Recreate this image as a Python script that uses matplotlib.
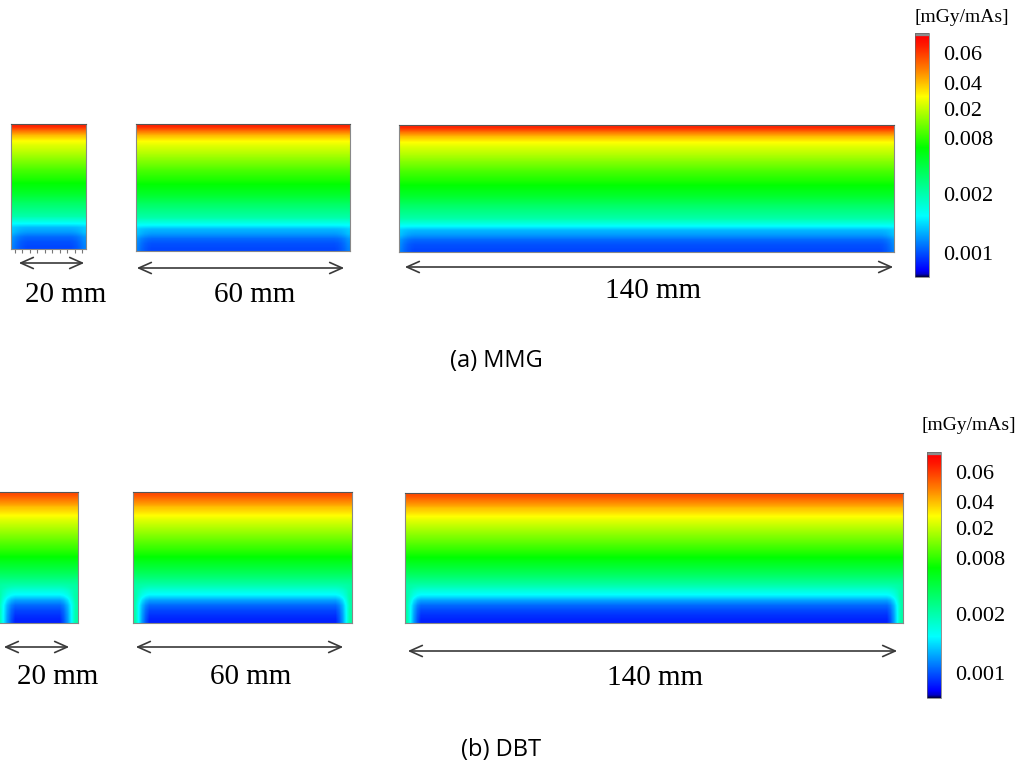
import numpy as np
import matplotlib.pyplot as plt
from matplotlib.colors import LinearSegmentedColormap, FuncNorm
from matplotlib.cm import ScalarMappable
from matplotlib.patches import FancyArrowPatch

# depth-dose profile (mGy/mAs), from the top surface down to the bottom, 26 rows
mmg_depth = [0.064, 0.049, 0.039, 0.028, 0.023, 0.020, 0.0165, 0.0136, 0.0113,
             0.0093, 0.0080, 0.0071, 0.0061, 0.0054, 0.0047, 0.0039, 0.0032,
             0.0027, 0.0023, 0.0019, 0.0016, 0.0013, 0.0012, 0.00106, 0.0010,
             0.00098]
dbt_depth = [0.056, 0.049, 0.0434, 0.0362, 0.0288, 0.0236, 0.020, 0.0165,
             0.0136, 0.0113, 0.0093, 0.0078, 0.0067, 0.0056, 0.0047, 0.0039,
             0.0032, 0.00255, 0.0020, 0.00173, 0.0015, 0.00122, 0.00106,
             0.00098, 0.00094, 0.00091]
# extra dose near the side walls, per depth row (fraction of the centre value)
mmg_edge_lift = [0.0] * 21 + [0.05, 0.1, 0.12, 0.15, 0.15]
dbt_edge_lift = [0.0] * 18 + [0.1, 0.2, 0.4, 0.7, 0.9, 1.1, 1.2, 1.3]
# how that lift fades with distance from the wall (1 mm steps)
edge_fade = [1.0, 0.55, 0.25, 0.08]

widths_mm = [20, 60, 140]
width_labels = ['20 mm', '60 mm', '140 mm']
captions = ['(a) MMG', '(b) DBT']
cbar_ticks = [0.001, 0.002, 0.008, 0.02, 0.04, 0.06]
cbar_ticklabels = ['0.001', '0.002', '0.008', '0.02', '0.04', '0.06']
cbar_unit = '[mGy/mAs]'

# the colour bar is not linear: dose -> position along the bar
scale_dose = [0.0008, 0.001, 0.002, 0.008, 0.02, 0.04, 0.06, 0.08]
scale_pos = [0.0, 0.10, 0.34, 0.57, 0.69, 0.795, 0.92, 1.0]

W, H = 1019, 778

# pixel layout of each row (x0, y0, x1, y1 from top-left)
layout = [
    dict(panels=[(11, 124, 86, 249), (136, 124, 350, 251), (399, 125, 894, 252)],
         arrows=[(16, 87, 263), (134, 347, 268), (402, 896, 267)],
         labels=[(66, 295), (255, 295), (653, 291)],
         cbar=(915, 33, 929, 277), unit=(962, 17), caption=(496, 361)),
    dict(panels=[(-3, 492, 78, 623), (133, 492, 352, 623), (405, 493, 903, 623)],
         arrows=[(1, 72, 647), (133, 346, 647), (405, 900, 651)],
         labels=[(58, 677), (251, 677), (655, 678)],
         cbar=(927, 452, 941, 698), unit=(969, 425), caption=(501, 750)),
]

cmap = LinearSegmentedColormap.from_list('dose', [
    (0.0, '#000030'), (0.012, '#0000c8'), (0.03, '#0000ff'),
    (0.25, '#00ffff'), (0.53, '#00ff00'), (0.74, '#ffff00'),
    (0.85, '#ff8000'), (0.95, '#ff1a00'), (0.986, '#ff0000'),
    (0.988, '#8c8c8c'), (1.0, '#8c8c8c')], N=1024)

log_dose = np.log10(scale_dose)


def fwd(v):
    v = np.clip(np.asarray(v, dtype=float), 1e-6, None)
    return np.interp(np.log10(v), log_dose, scale_pos)


def inv(p):
    return 10 ** np.interp(np.asarray(p, dtype=float), scale_pos, log_dose)


norm = FuncNorm((fwd, inv), vmin=scale_dose[0], vmax=scale_dose[-1])


def dose_field(depth, lift, width):
    cols = np.arange(width) + 0.5
    dist = (np.minimum(cols, width - cols) - 0.5).astype(int)
    fade = np.zeros(width)
    for k, f in enumerate(edge_fade):
        fade[dist == k] = f
    return np.outer(depth, np.ones(width)) * (1 + np.outer(lift, fade))


def px_box(x0, y0, x1, y1):
    return [x0 / W, 1 - y1 / H, (x1 - x0) / W, (y1 - y0) / H]


fig = plt.figure(figsize=(W / 100, H / 100), dpi=100)

serif = 'Liberation Serif'
profiles = [(mmg_depth, mmg_edge_lift), (dbt_depth, dbt_edge_lift)]

for r, lay in enumerate(layout):
    depth, lift = profiles[r]
    for k, w in enumerate(widths_mm):
        ax = fig.add_axes(px_box(*lay['panels'][k]))
        ax.imshow(dose_field(depth, lift, w), extent=(0, w, 1, 0), aspect='auto',
                  cmap=cmap, norm=norm, interpolation='bilinear',
                  interpolation_stage='data')
        ax.set_yticks([])
        if r == 0 and k == 0:
            ax.set_xticks(np.arange(1, w, 2))
            ax.tick_params(axis='x', length=3, color='#777777', labelbottom=False)
        else:
            ax.set_xticks([])
        for sp in ax.spines.values():
            sp.set_color('#888888')
            sp.set_linewidth(0.8)
        ax.spines['top'].set_color('#555555')

        xa, xb, ya = lay['arrows'][k]
        fig.add_artist(FancyArrowPatch(
            (xa / W, 1 - ya / H), (xb / W, 1 - ya / H), transform=fig.transFigure,
            arrowstyle='<->,head_length=0.9,head_width=0.4', mutation_scale=10,
            lw=1.2, color='#3a3a3a'))
        lx, ly = lay['labels'][k]
        fig.text(lx / W, 1 - ly / H, width_labels[k], ha='center', va='center',
                 fontsize=21, family=serif)

    cax = fig.add_axes(px_box(*lay['cbar']))
    cb = fig.colorbar(ScalarMappable(norm=norm, cmap=cmap), cax=cax)
    cb.set_ticks(cbar_ticks, labels=cbar_ticklabels)
    cax.tick_params(length=0, pad=10, labelsize=16, labelfontfamily=serif)
    cb.outline.set_linewidth(0.5)
    cb.outline.set_edgecolor('#666666')
    cax.minorticks_off()

    ux, uy = lay['unit']
    fig.text(ux / W, 1 - uy / H, cbar_unit, ha='center', va='center',
             fontsize=14, family=serif)
    cx, cy = lay['caption']
    fig.text(cx / W, 1 - cy / H, captions[r], ha='center', va='center',
             fontsize=17, family='Open Sans')

fig.savefig('out.png', dpi=100)
